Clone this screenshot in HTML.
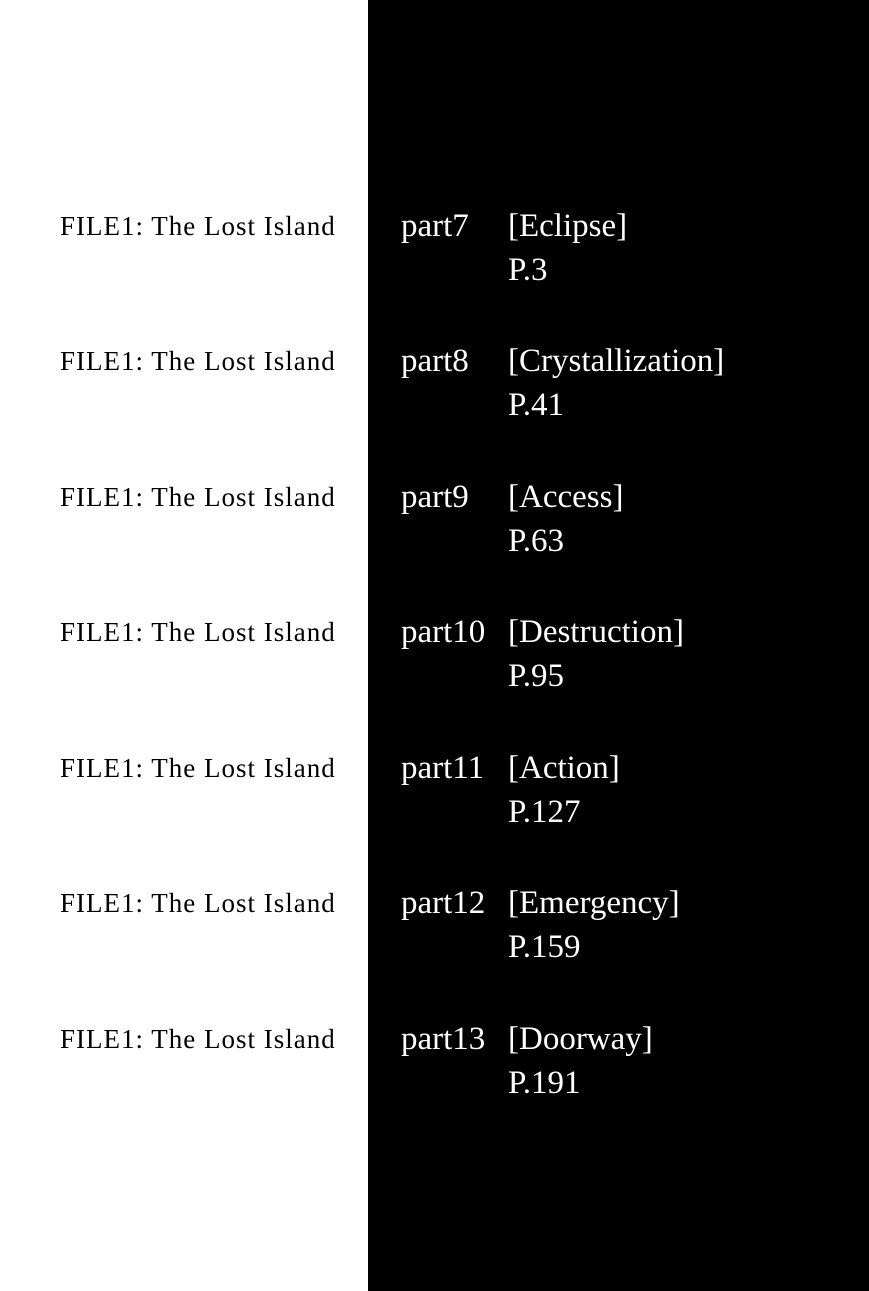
<!DOCTYPE html>
<html><head><meta charset="utf-8"><style>
html,body{margin:0;padding:0}
body{width:869px;height:1291px;position:relative;background:#fff;overflow:hidden;font-family:"Liberation Serif",serif}
.blk{position:absolute;left:368px;top:0;width:501px;height:1291px;background:#000}
.l{position:absolute;left:60px;font-size:27px;line-height:1;color:#000;letter-spacing:1px;white-space:nowrap}
.p{position:absolute;left:401px;font-size:33px;line-height:1;color:#fff;white-space:nowrap}
.t{position:absolute;left:508px;font-size:33px;line-height:1;color:#fff;white-space:nowrap}
</style></head><body>
<div class="blk"></div>

<div class="l" style="top:213px">FILE1: The Lost Island</div>
<div class="p" style="top:210px">part7</div>
<div class="t" style="top:210px">[Eclipse]</div>
<div class="t" style="top:254px">P.3</div>

<div class="l" style="top:348px">FILE1: The Lost Island</div>
<div class="p" style="top:345px">part8</div>
<div class="t" style="top:345px">[Crystallization]</div>
<div class="t" style="top:389px">P.41</div>

<div class="l" style="top:484px">FILE1: The Lost Island</div>
<div class="p" style="top:481px">part9</div>
<div class="t" style="top:481px">[Access]</div>
<div class="t" style="top:525px">P.63</div>

<div class="l" style="top:619px">FILE1: The Lost Island</div>
<div class="p" style="top:616px">part10</div>
<div class="t" style="top:616px">[Destruction]</div>
<div class="t" style="top:660px">P.95</div>

<div class="l" style="top:755px">FILE1: The Lost Island</div>
<div class="p" style="top:752px">part11</div>
<div class="t" style="top:752px">[Action]</div>
<div class="t" style="top:796px">P.127</div>

<div class="l" style="top:890px">FILE1: The Lost Island</div>
<div class="p" style="top:887px">part12</div>
<div class="t" style="top:887px">[Emergency]</div>
<div class="t" style="top:931px">P.159</div>

<div class="l" style="top:1026px">FILE1: The Lost Island</div>
<div class="p" style="top:1023px">part13</div>
<div class="t" style="top:1023px">[Doorway]</div>
<div class="t" style="top:1067px">P.191</div>
</body></html>
